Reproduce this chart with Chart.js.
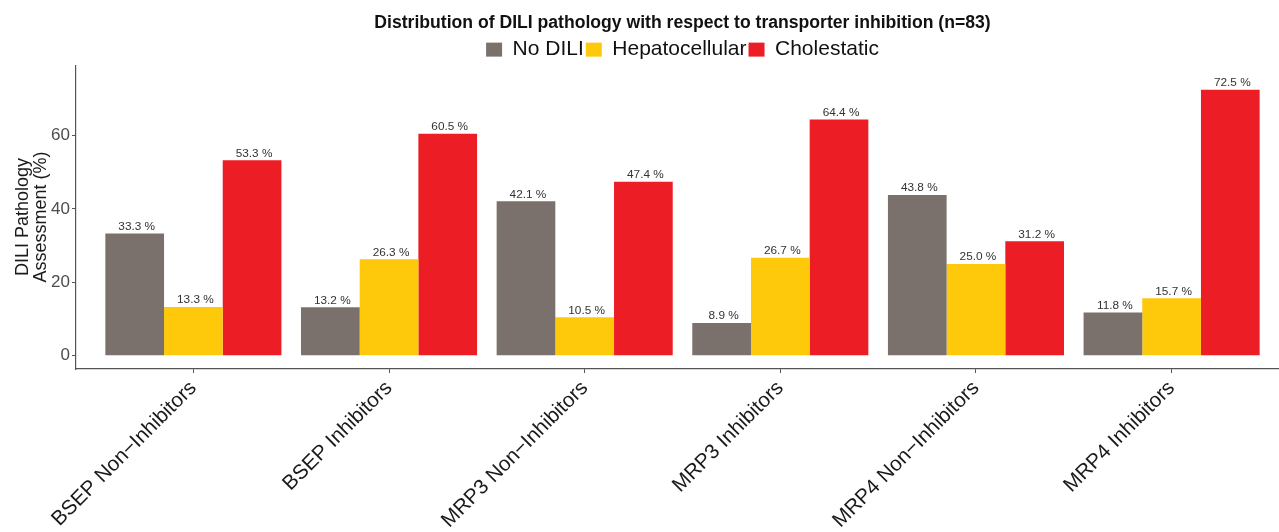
<!DOCTYPE html>
<html>
<head>
<meta charset="utf-8">
<script src="https://cdn.jsdelivr.net/npm/chart.js@4.4.1/dist/chart.umd.min.js"></script>
<style>
  html, body { margin: 0; padding: 0; background: #fff; overflow: hidden; }
  #wrap { width: 1300px; height: 532px; position: relative; }
</style>
</head>
<body>
<div id="wrap"><canvas id="diliChart"></canvas></div>
<script>
// ── data ─────────────────────────────────────────────
const categories = [
  "BSEP Non\u2212Inhibitors", "BSEP Inhibitors", "MRP3 Non\u2212Inhibitors",
  "MRP3 Inhibitors", "MRP4 Non\u2212Inhibitors", "MRP4 Inhibitors",
];
const noDili         = [33.3, 13.2, 42.1,  8.9, 43.8, 11.8];
const hepatocellular = [13.3, 26.3, 10.5, 26.7, 25.0, 15.7];
const cholestatic    = [53.3, 60.5, 47.4, 64.4, 31.2, 72.5];
const yTicks = [0, 20, 40, 60];

const FONT = "'Liberation Sans', Arial, Helvetica, sans-serif";

const toPoints = arr => arr.map((v, i) => ({ x: i + 1, y: v }));

// value labels above each bar
const barLabels = {
  id: "barLabels",
  afterDatasetsDraw(chart) {
    const ctx = chart.ctx;
    ctx.save();
    ctx.font = `11.8px ${FONT}`;
    ctx.fillStyle = "#333333";
    ctx.textAlign = "center";
    ctx.textBaseline = "bottom";
    chart.data.datasets.forEach((ds, di) => {
      chart.getDatasetMeta(di).data.forEach((el, i) => {
        ctx.fillText(`${ds.data[i].y.toFixed(1)} %`, el.x + 2, el.y - 1);
      });
    });
    ctx.restore();
  },
};

// legend sits a little lower without pushing the plot down
const tightLegend = {
  id: "tightLegend",
  afterInit(chart) {
    const lg = chart.legend;
    if (!lg) return;
    const fit = lg.fit;
    lg.fit = function () {
      fit.call(this);
      this.height -= 5;
    };
  },
};

new Chart(document.getElementById("diliChart"), {
  type: "bar",
  data: {
    datasets: [
      { label: "No DILI",        data: toPoints(noDili),         backgroundColor: "#7a716c" },
      { label: "Hepatocellular", data: toPoints(hepatocellular), backgroundColor: "#fec80b" },
      { label: "Cholestatic",    data: toPoints(cholestatic),    backgroundColor: "#ec1d25" },
    ],
  },
  options: {
    responsive: true,
    maintainAspectRatio: false,
    animation: false,
    layout: { padding: { left: 0, right: 11, top: 9, bottom: 0 } },
    datasets: { bar: { categoryPercentage: 0.9, barPercentage: 1.0, borderWidth: 0 } },
    scales: {
      x: {
        type: "linear",
        offset: false,
        min: 0.4,
        max: 6.6,
        afterBuildTicks: scale => { scale.ticks = categories.map((_, i) => ({ value: i + 1 })); },
        afterFit: scale => { scale.height = 163; },
        ticks: {
          autoSkip: false,
          minRotation: 45,
          maxRotation: 45,
          padding: 3,
          color: "#1a1a1a",
          font: { family: FONT, size: 20.7 },
          callback: v => categories[v - 1] ?? "",
        },
        grid: { display: true, offset: false, drawOnChartArea: false, tickLength: 4, color: "#555" },
        border: { display: true, color: "#555", width: 1.2 },
      },
      y: {
        min: -3.6,
        max: 79.2,
        afterBuildTicks: scale => { scale.ticks = yTicks.map(v => ({ value: v })); },
        afterFit: scale => { scale.width = 76; },
        ticks: {
          color: "#4d4d4d",
          padding: 2,
          font: { family: FONT, size: 17 },
        },
        grid: { display: true, drawOnChartArea: false, tickLength: 4, color: "#555" },
        border: { display: true, color: "#555", width: 1.2 },
        title: {
          display: true,
          text: ["DILI Pathology", "Assessment (%)"],
          color: "#1a1a1a",
          padding: { top: 14, bottom: 0 },
          font: { family: FONT, size: 18, lineHeight: 1.0 },
        },
      },
    },
    plugins: {
      title: {
        display: true,
        fullSize: false,
        text: "Distribution of DILI pathology with respect to transporter inhibition (n=83)",
        color: "#111",
        font: { family: FONT, size: 17.6, weight: "bold" },
        padding: { top: 4, bottom: 3 },
      },
      legend: {
        position: "top",
        fullSize: false,
        labels: {
          boxWidth: 16,
          boxHeight: 14,
          padding: 2,
          color: "#111",
          font: { family: FONT, size: 21 },
        },
      },
      tooltip: { enabled: false },
    },
  },
  plugins: [barLabels, tightLegend],
});
</script>
</body>
</html>
